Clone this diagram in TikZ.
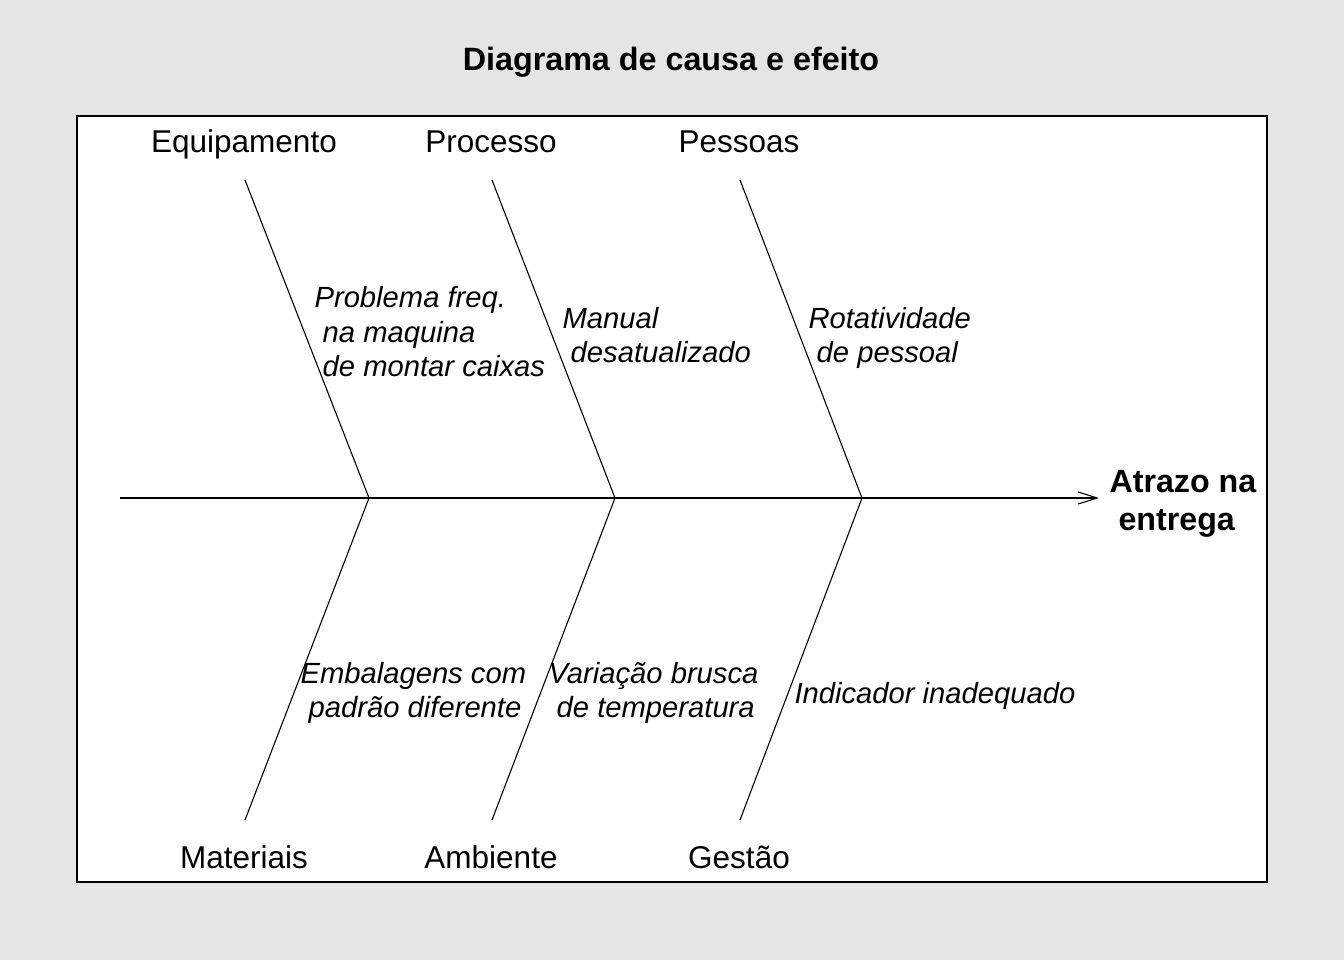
\documentclass[tikz,border=0pt]{standalone}
\usepackage{fontspec}
\setmainfont{Liberation Sans}
\usepackage{tikz}
\usetikzlibrary{arrows.meta}

\begin{document}
\begin{tikzpicture}[x=1pt,y=-1pt,line width=1.1pt,>={Straight Barb[length=19pt,width=12pt,line width=1.1pt]}]
      \tikzstyle{bone} = [draw=black, line width=1.1pt]
      \tikzstyle{category label} = [inner sep=0pt, anchor=base, font=\fontsize{31.5}{37}\selectfont]
      \tikzstyle{cause label} = [inner sep=0pt, anchor=west, align=left, font=\fontsize{29.2}{34.5}\selectfont\itshape]
      %background and frame
      \fill[black!10] (0,0) rectangle (1344,960);
      \useasboundingbox (0,0) rectangle (1344,960);
      \filldraw[fill=white, draw=black, line width=1.2pt] (77,116) rectangle (1267,882);
      \node[inner sep=0pt, font=\fontsize{32.3}{38}\selectfont\bfseries] (title) at (671,62) {Diagrama de causa e efeito};

      %spine
      \coordinate (tail) at (120,498);
      \coordinate (head) at (1099,498);
      \coordinate (j1) at (369,498);
      \coordinate (j2) at (615,498);
      \coordinate (j3) at (862,498);
      \node[inner sep=0pt, anchor=west, align=left, font=\fontsize{32.2}{38.5}\selectfont\bfseries] (effect) at (1109,504) {Atrazo na\\\hspace*{9pt}entrega};

      %bone ends
      \coordinate (u1) at (245,180);
      \coordinate (u2) at (492,180);
      \coordinate (u3) at (740,180);
      \coordinate (d1) at (245,820);
      \coordinate (d2) at (492,820);
      \coordinate (d3) at (740,820);

      %categories
      \node[category label] (equip) at (244,153) {Equipamento};
      \node[category label] (proc) at (491,153) {Processo};
      \node[category label] (pess) at (739,153) {Pessoas};
      \node[category label] (mat) at (244,868) {Materiais};
      \node[category label] (amb) at (491,868) {Ambiente};
      \node[category label] (gest) at (739,868) {Gestão};

      %causes
      \node[cause label] (c1) at (314,332) {Problema freq.\\\hspace*{.28em}na maquina\\\hspace*{.28em}de montar caixas};
      \node[cause label] (c2) at (562,335) {Manual\\\hspace*{.28em}desatualizado};
      \node[cause label] (c3) at (808,338) {Rotatividade\\\hspace*{.28em}de pessoal};
      \node[cause label] (c4) at (300,693) {Embalagens com\\\hspace*{.28em}padrão diferente};
      \node[cause label] (c5) at (548,693) {Variação brusca\\\hspace*{.28em}de temperatura};
      \node[cause label] (c6) at (794,696) {Indicador inadequado};

      %lines
      \draw[->] (tail) -- (head);
      \foreach \i in {1,2,3}
      {
        \path[bone] (u\i) -- (j\i);
        \path[bone] (j\i) -- (d\i);
      }
    \end{tikzpicture}
\end{document}
